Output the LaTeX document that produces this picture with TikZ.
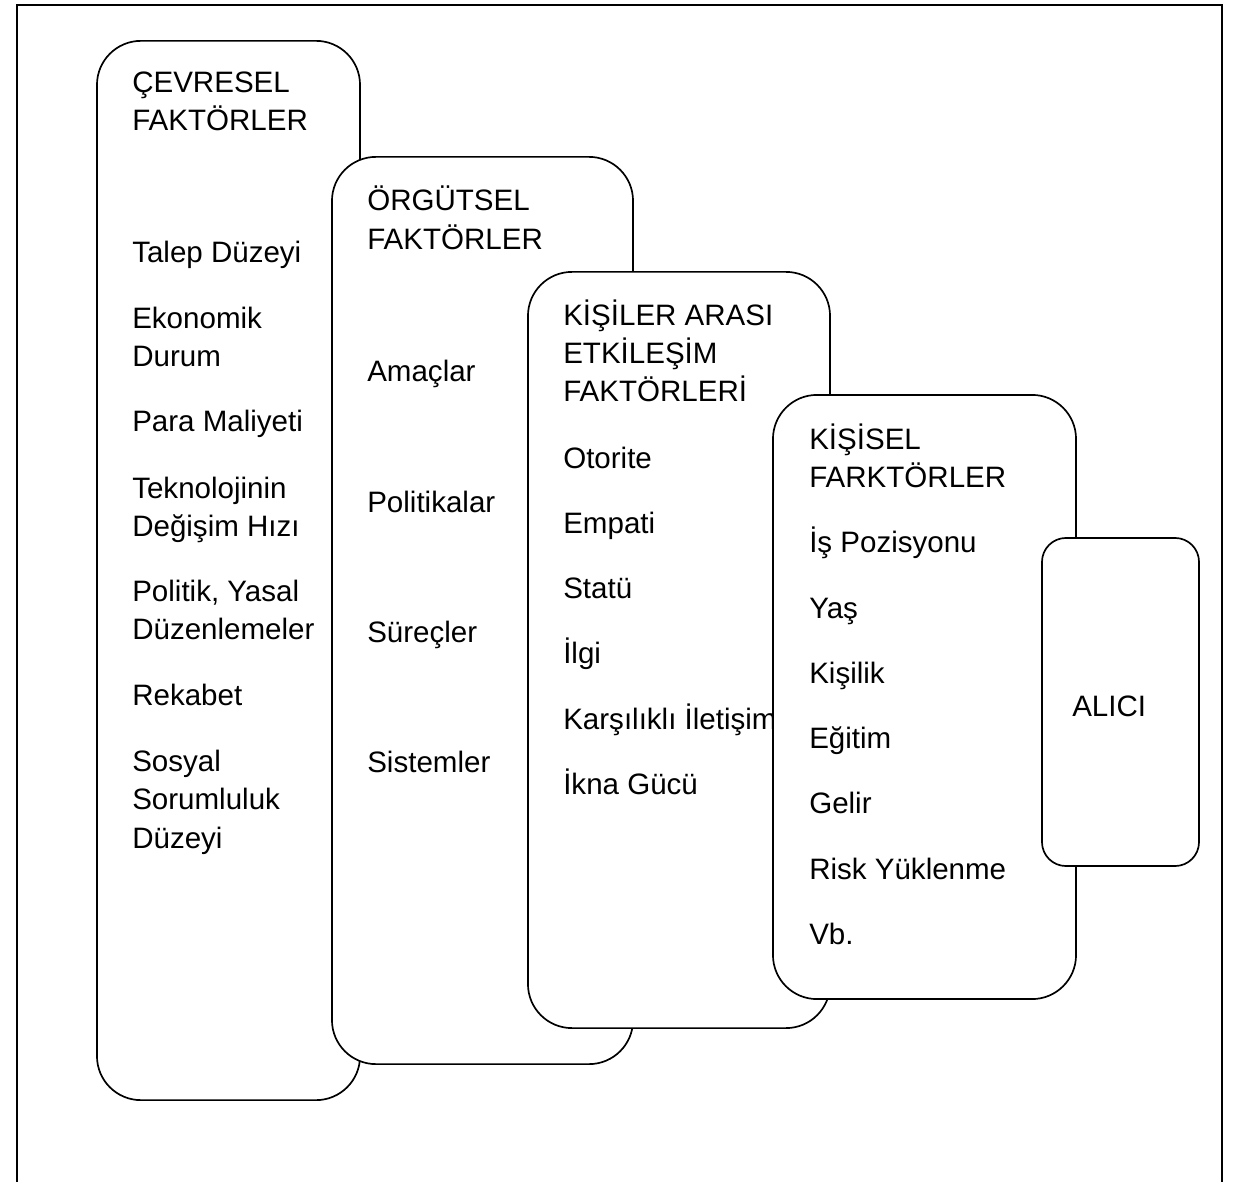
\documentclass[tikz,border=0pt]{standalone}
\usepackage{fontspec}
\setmainfont{Liberation Sans}

\tikzset{
  katman/.style={draw, fill=white, line width=1.2pt, rounded corners=1.1cm, inner sep=0pt, outer sep=0pt},
  yazi/.style={anchor=base west, inner sep=0pt, font=\fontsize{21}{27}\selectfont},
}

\begin{document}
\begin{tikzpicture}[x=0.025cm, y=-0.025cm]

\useasboundingbox (0,0) rectangle (1238,1182);
\draw[line width=1.8pt] (17,1182) -- (17,5) -- (1222,5) -- (1222,1182);

% cevresel
\node[katman, minimum width=6.575cm, minimum height=26.475cm] (cevre) at (228.5,570.5) {};
\foreach \t/\y [count=\i] in {ÇEVRESEL/93, FAKTÖRLER/131, Talep Düzeyi/263, Ekonomik/328, Durum/366,
  Para Maliyeti/431, Teknolojinin/498, Değişim Hızı/536, {Politik, Yasal}/601, Düzenlemeler/639,
  Rekabet/705, Sosyal/771, Sorumluluk/809, Düzeyi/848}
  \node[yazi] (c\i) at (132,\y) {\t};

% orgutsel
\node[katman, minimum width=7.525cm, minimum height=22.675cm] (orgut) at (482.5,610.5) {};
\foreach \t/\y [count=\i] in {ÖRGÜTSEL/211, FAKTÖRLER/249, Amaçlar/381, Politikalar/512, Süreçler/642, Sistemler/772}
  \node[yazi] (o\i) at (367,\y) {\t};

% kisiler arasi
\node[katman, minimum width=7.55cm, minimum height=18.9cm] (etkilesim) at (679,650) {};
\foreach \t/\y [count=\i] in {KİŞİLER ARASI/325, ETKİLEŞİM/363, FAKTÖRLERİ/401, Otorite/468, Empati/533,
  Statü/598, İlgi/663, Karşılıklı İletişim/729, İkna Gücü/794}
  \node[yazi] (e\i) at (563,\y) {\t};

% kisisel
\node[katman, minimum width=7.575cm, minimum height=15.1cm] (kisisel) at (924.5,697) {};
\foreach \t/\y [count=\i] in {KİŞİSEL/449, FARKTÖRLER/487, İş Pozisyonu/552, Yaş/618, Kişilik/683,
  Eğitim/748, Gelir/813, Risk Yüklenme/879, Vb./944}
  \node[yazi] (k\i) at (809,\y) {\t};

% alici
\node[katman, rounded corners=0.6cm, minimum width=3.925cm, minimum height=8.2cm] (alici) at (1120.5,702) {};
\node[yazi] (a1) at (1072,716) {ALICI};

\end{tikzpicture}
\end{document}
